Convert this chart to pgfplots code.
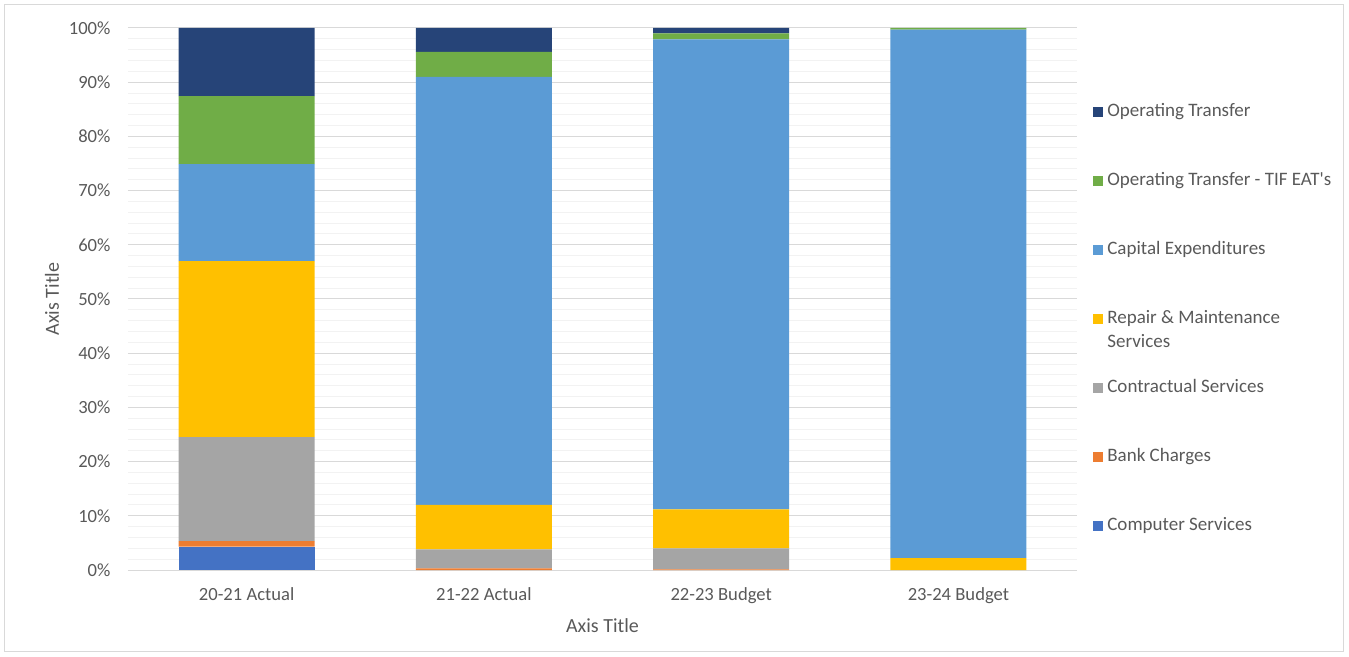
\documentclass[border=0pt]{standalone}
\usepackage{pgfplots}
\pgfplotsset{compat=1.18}
\usepackage{fontspec}
\setmainfont{Carlito}
\definecolor{cComp}{HTML}{4472C4}
\definecolor{cBank}{HTML}{ED7D31}
\definecolor{cCont}{HTML}{A5A5A5}
\definecolor{cRep}{HTML}{FFC000}
\definecolor{cCap}{HTML}{5B9BD5}
\definecolor{cTif}{HTML}{70AD47}
\definecolor{cOp}{HTML}{264478}
\definecolor{txt}{HTML}{595959}
\definecolor{majg}{HTML}{D9D9D9}
\definecolor{ming}{HTML}{F2F2F2}
\begin{document}
\begin{tikzpicture}
\draw[majg, line width=1pt] (-123pt,-81pt) rectangle (1215pt,565pt);
\begin{axis}[
  at={(0,0)}, anchor=south west,
  scale only axis, width=949pt, height=542pt,
  ybar stacked, bar width=136pt,
  xmin=-0.5, xmax=3.5, ymin=0, ymax=100,
  xtick={0,1,2,3},
  xticklabels={20-21 Actual,21-22 Actual,22-23 Budget,23-24 Budget},
  ytick={0,10,...,100},
  yticklabel={\pgfmathprintnumber{\tick}\%},
  minor y tick num=4,
  ymajorgrids, yminorgrids,
  major grid style={majg, line width=1pt},
  minor grid style={ming, line width=1pt},
  major tick length=0pt, minor tick length=0pt,
  axis x line*=bottom, axis y line*=left,
  x axis line style={majg, line width=1pt, -},
  y axis line style={draw=none},
  tick label style={font=\fontsize{18.6}{22}\selectfont, text=txt},
  /pgf/number format/assume math mode=true,
  xticklabel style={yshift=-14pt},
  yticklabel style={xshift=-14pt},
  xlabel={Axis Title}, ylabel={Axis Title},
  label style={font=\fontsize{20}{24}\selectfont, text=txt},
  xlabel style={yshift=-8pt},
  ylabel style={yshift=3pt},
  reverse legend,
  legend style={at={(axis description cs:1.0165,0.4640)}, anchor=west,
    draw=none, fill=none, inner sep=0pt, row sep=49pt,
    font=\fontsize{19}{23}\selectfont, text=txt,
    nodes={inner sep=1.5pt, text height=13pt, text depth=4pt, anchor=west},
    /tikz/every odd column/.append style={column sep=3pt}},
  legend cell align=left,
  legend image code/.code={\fill[#1] (0pt,-5pt) rectangle (10pt,5pt);},
]
\addplot[fill=cComp, draw=none] coordinates {(0,4.3) (1,0.0) (2,0.0) (3,0.0)};
\addplot[fill=cBank, draw=none] coordinates {(0,1.05) (1,0.3) (2,0.1) (3,0.0)};
\addplot[fill=cCont, draw=none] coordinates {(0,19.15) (1,3.5) (2,3.9) (3,0.0)};
\addplot[fill=cRep, draw=none] coordinates {(0,32.5) (1,8.2) (2,7.2) (3,2.2)};
\addplot[fill=cCap, draw=none] coordinates {(0,17.9) (1,79.0) (2,86.7) (3,97.5)};
\addplot[fill=cTif, draw=none] coordinates {(0,12.55) (1,4.6) (2,1.1) (3,0.3)};
\addplot[fill=cOp, draw=none] coordinates {(0,12.55) (1,4.4) (2,1.0) (3,0.0)};
\legend{Computer Services, Bank Charges, Contractual Services,
  {\parbox[t]{200pt}{Repair \& Maintenance\\[1pt]Services}},
  Capital Expenditures, Operating Transfer - TIF EAT\textquotesingle s, Operating Transfer}
\end{axis}
\pgfresetboundingbox
\useasboundingbox (-128pt,-86pt) rectangle (1221pt,570pt);
\end{tikzpicture}
\end{document}
